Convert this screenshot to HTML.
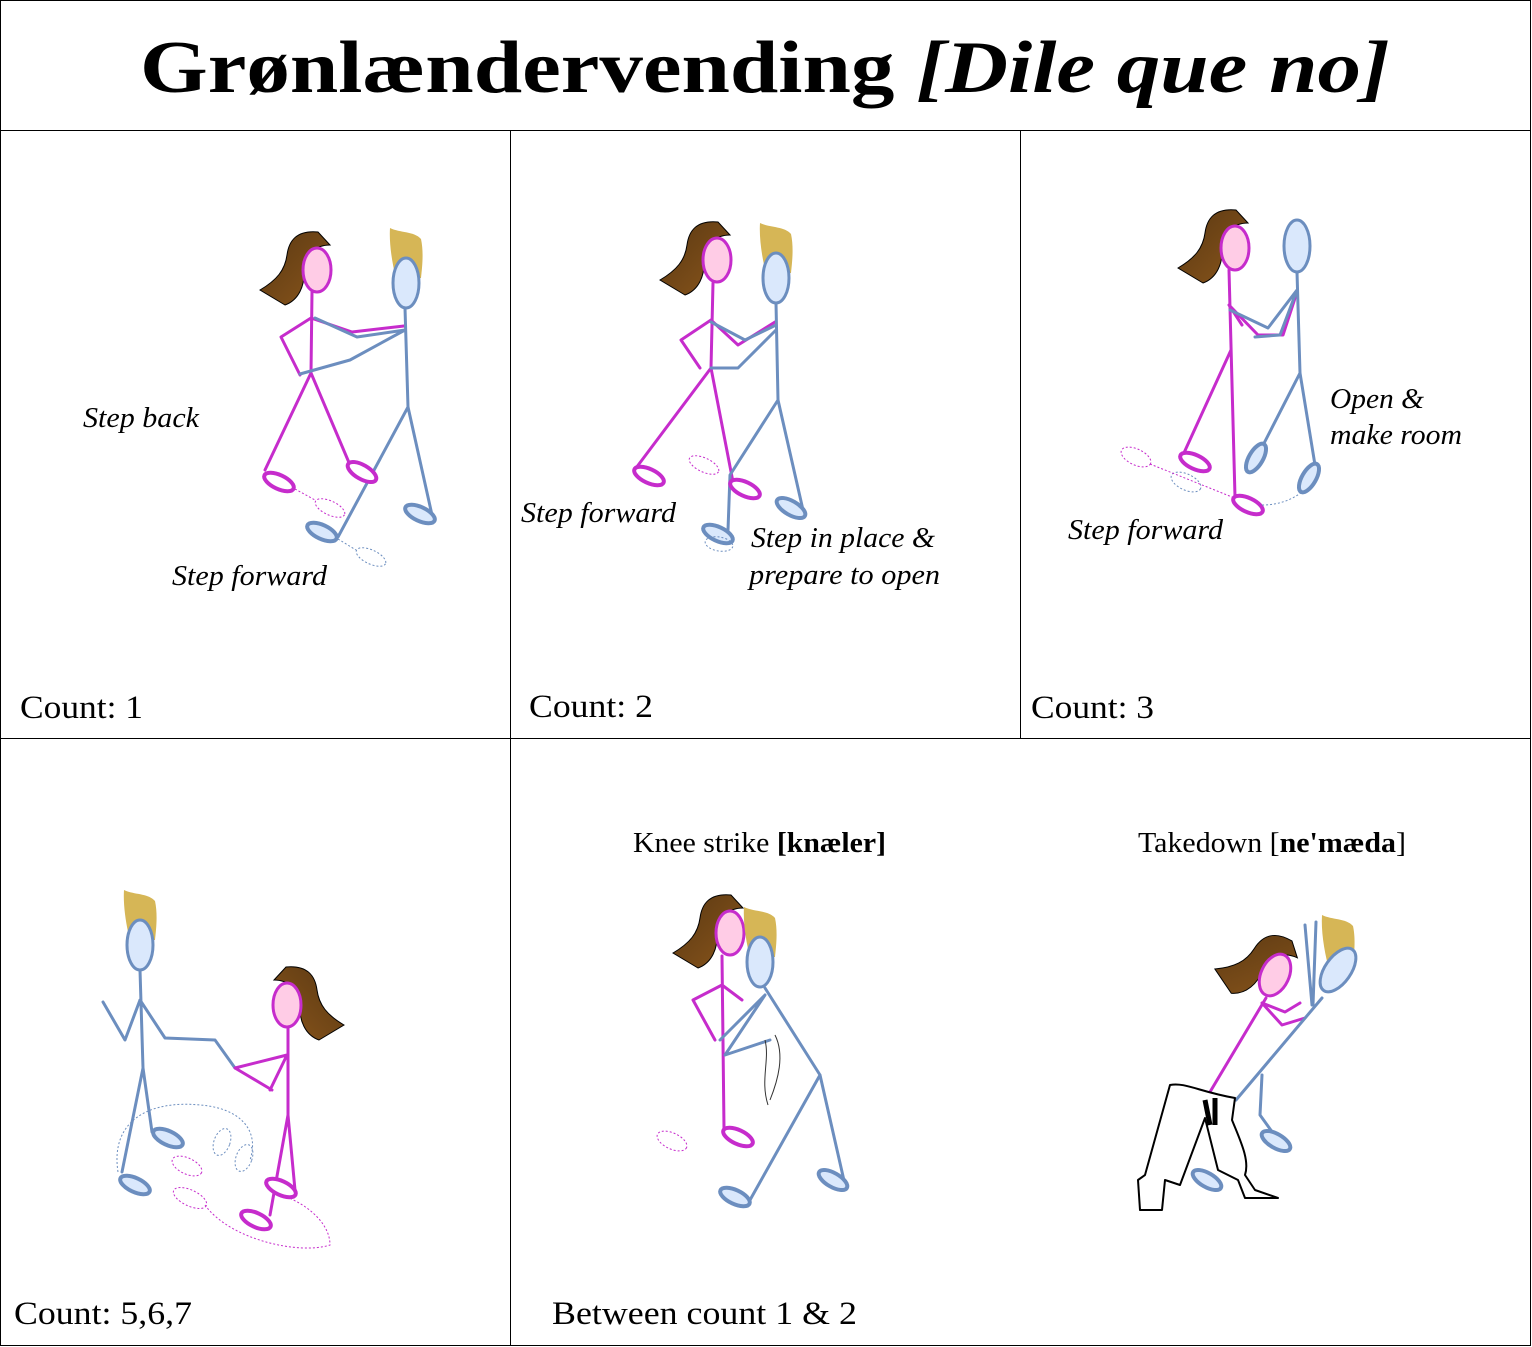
<!DOCTYPE html>
<html><head><meta charset="utf-8"><style>
html,body{margin:0;padding:0;background:#fff}
svg{display:block}
text{font-family:"Liberation Serif",serif}
.it{font-style:italic;font-size:28px}
.ct{font-size:33px}
.p{stroke:#c62ccc;stroke-width:3;fill:none;stroke-linejoin:round;stroke-linecap:round}
.b{stroke:#6c8ebf;stroke-width:3;fill:none;stroke-linejoin:round;stroke-linecap:round}
.pf{stroke:#c62ccc;stroke-width:4;fill:#fff}
.bf{stroke:#6c8ebf;stroke-width:4;fill:#dae8fc}
.pd{stroke:#c62ccc;stroke-width:1;stroke-dasharray:2 2;fill:none}
.bd{stroke:#6c8ebf;stroke-width:1;stroke-dasharray:2 2;fill:none}
</style></head><body>
<svg width="1532" height="1347" viewBox="0 0 1532 1347" xmlns="http://www.w3.org/2000/svg">
<defs>
<linearGradient id="hg" x1="0" y1="0" x2="1" y2="1"><stop offset="0" stop-color="#5a3812"/><stop offset="1" stop-color="#8a561c"/></linearGradient>
<g id="wh">
<path d="M13,-25 L1,-38 C-20,-40 -28,-30 -30,-15 C-32,0 -40,10 -57,20 L-32,35 C-18,30 -12,15 -13,0 C-12,-15 -2,-25 13,-25Z" fill="url(#hg)" stroke="#000" stroke-width="1"/>
<ellipse cx="0" cy="0" rx="14" ry="22" fill="#ffcce6" stroke="#c62ccc" stroke-width="3"/>
</g>
<g id="mh">
<path d="M-16,-55 C-6,-50 8,-52 15,-44 C18,-30 16,-15 15,-5 L-10,-5 C-14,-20 -17,-40 -16,-55Z" fill="#d6b656"/>
<ellipse cx="0" cy="0" rx="13" ry="25" fill="#dae8fc" stroke="#6c8ebf" stroke-width="3"/>
</g>
</defs>
<g stroke="#000" stroke-width="1" fill="none">
<rect x="0.5" y="0.5" width="1530" height="1345"/>
<line x1="0" y1="130.5" x2="1531" y2="130.5"/>
<line x1="0" y1="738.5" x2="1531" y2="738.5"/>
<line x1="510.5" y1="130" x2="510.5" y2="1346"/>
<line x1="1020.5" y1="130" x2="1020.5" y2="738"/>
</g>
<text x="140" y="92" textLength="1250" lengthAdjust="spacingAndGlyphs" font-size="74" font-weight="bold">Grønlændervending <tspan font-style="italic">[Dile que no]</tspan></text>

<!-- Panel 1 -->
<use href="#wh" transform="translate(317,270)"/>
<path class="p" d="M312,292 L311,373 M311,318 L281,337 L300,375 M311,318 L352,332 L404,326 M311,373 L265,470 M311,373 L350,465"/>
<use href="#mh" transform="translate(406,283)"/>
<path class="b" d="M405,308 L408,407 M405,330 L357,337 L315,318 M405,330 L350,360 L300,374 M408,407 L338,537 M408,407 L432,515"/>
<ellipse class="pf" cx="279" cy="482" rx="16" ry="7" transform="rotate(25 279 482)"/>
<ellipse class="pf" cx="362" cy="472" rx="16" ry="7" transform="rotate(30 362 472)"/>
<ellipse class="bf" cx="322" cy="532" rx="16" ry="7" transform="rotate(25 322 532)"/>
<ellipse class="bf" cx="420" cy="514" rx="16" ry="7" transform="rotate(25 420 514)"/>
<ellipse class="pd" cx="330" cy="508" rx="16" ry="7" transform="rotate(25 330 508)"/>
<ellipse class="bd" cx="371" cy="557" rx="16" ry="7" transform="rotate(25 371 557)"/>
<path class="pd" d="M295,489 L315,500"/><path class="bd" d="M338,539 L356,550"/>
<text class="it" x="83" y="427" textLength="116" lengthAdjust="spacingAndGlyphs">Step back</text>
<text class="it" x="172" y="585" textLength="155" lengthAdjust="spacingAndGlyphs">Step forward</text>
<text class="ct" x="20" y="718" textLength="123" lengthAdjust="spacingAndGlyphs">Count: 1</text>

<!-- Panel 2 -->
<use href="#wh" transform="translate(717,260)"/>
<path class="p" d="M713,283 L711,368 M711,320 L681,340 L700,368 M711,320 L738,345 L775,322 M711,368 L636,468 M711,368 L733,482"/>
<use href="#mh" transform="translate(776,278)"/>
<path class="b" d="M776,303 L778,400 M776,330 L738,368 L711,368 M776,325 L745,340 L711,322 M778,400 L730,475 L728,530 M778,400 L803,510"/>
<ellipse class="pf" cx="649" cy="476" rx="16" ry="7" transform="rotate(25 649 476)"/>
<ellipse class="pf" cx="745" cy="489" rx="16" ry="7" transform="rotate(25 745 489)"/>
<ellipse class="bf" cx="718" cy="534" rx="16" ry="7" transform="rotate(25 718 534)"/>
<ellipse class="bf" cx="791" cy="508" rx="16" ry="7" transform="rotate(30 791 508)"/>
<ellipse class="pd" cx="704" cy="465" rx="16" ry="7" transform="rotate(25 704 465)"/>
<ellipse class="bd" cx="719" cy="544" rx="14" ry="7" transform="rotate(10 719 544)"/>
<text class="it" x="521" y="522" textLength="155" lengthAdjust="spacingAndGlyphs">Step forward</text>
<text class="it" x="751" y="547" textLength="184" lengthAdjust="spacingAndGlyphs">Step in place &amp;</text>
<text class="it" x="749" y="584" textLength="191" lengthAdjust="spacingAndGlyphs">prepare to open</text>
<text class="ct" x="529" y="717" textLength="124" lengthAdjust="spacingAndGlyphs">Count: 2</text>

<!-- Panel 3 -->
<use href="#wh" transform="translate(1235,248)"/>
<path class="p" d="M1229,270 L1235,497 M1229,305 L1258,335 L1283,335 L1297,292 M1231,350 L1183,455 M1229,305 L1242,325"/>
<ellipse cx="1297" cy="246" rx="13" ry="26" fill="#dae8fc" stroke="#6c8ebf" stroke-width="3"/>
<path class="b" d="M1297,272 L1300,373 M1297,290 L1268,328 L1230,310 M1297,290 L1280,335 L1255,337 M1300,373 L1258,455 M1300,373 L1315,465"/>
<ellipse class="pf" cx="1195" cy="462" rx="16" ry="7" transform="rotate(25 1195 462)"/>
<ellipse class="pf" cx="1248" cy="505" rx="16" ry="7" transform="rotate(25 1248 505)"/>
<ellipse class="bf" cx="1256" cy="458" rx="16" ry="7" transform="rotate(-60 1256 458)"/>
<ellipse class="bf" cx="1309" cy="478" rx="16" ry="7" transform="rotate(-60 1309 478)"/>
<ellipse class="pd" cx="1136" cy="457" rx="16" ry="8" transform="rotate(25 1136 457)"/>
<ellipse class="bd" cx="1186" cy="482" rx="16" ry="8" transform="rotate(25 1186 482)"/>
<path class="pd" d="M1150,464 L1232,497"/><path class="bd" d="M1262,505 Q1285,505 1302,492"/>
<text class="it" x="1330" y="408" textLength="94" lengthAdjust="spacingAndGlyphs">Open &amp;</text>
<text class="it" x="1330" y="444" textLength="132" lengthAdjust="spacingAndGlyphs">make room</text>
<text class="it" x="1068" y="539" textLength="155" lengthAdjust="spacingAndGlyphs">Step forward</text>
<text class="ct" x="1031" y="718" textLength="123" lengthAdjust="spacingAndGlyphs">Count: 3</text>

<!-- Panel 4 -->
<use href="#mh" transform="translate(140,945)"/>
<path class="b" d="M140,970 L143,1068 M140,1000 L125,1040 L103,1002 M140,1000 L165,1038 L215,1040 L235,1068 M143,1068 L122,1172 M143,1068 L152,1132"/>
<use href="#wh" transform="translate(287,1005) scale(-1,1)"/>
<path class="p" d="M288,1028 L288,1115 L295,1190 M288,1115 L270,1215 M287,1055 L235,1068 L272,1090 M287,1055 L270,1090"/>
<ellipse class="bf" cx="135" cy="1185" rx="16" ry="7" transform="rotate(25 135 1185)"/>
<ellipse class="bf" cx="168" cy="1138" rx="16" ry="7" transform="rotate(25 168 1138)"/>
<ellipse class="pf" cx="281" cy="1188" rx="16" ry="7" transform="rotate(25 281 1188)"/>
<ellipse class="pf" cx="256" cy="1220" rx="16" ry="7" transform="rotate(25 256 1220)"/>
<path class="bd" d="M118,1172 C110,1120 150,1100 200,1105 C240,1108 260,1130 250,1160"/>
<ellipse class="bd" cx="222" cy="1142" rx="8" ry="14" transform="rotate(20 222 1142)"/>
<ellipse class="bd" cx="244" cy="1158" rx="8" ry="14" transform="rotate(20 244 1158)"/>
<ellipse class="pd" cx="187" cy="1166" rx="16" ry="8" transform="rotate(25 187 1166)"/>
<ellipse class="pd" cx="190" cy="1198" rx="18" ry="8" transform="rotate(25 190 1198)"/>
<path class="pd" d="M205,1205 C230,1240 300,1255 330,1245 C330,1220 300,1200 280,1195"/>
<text class="ct" x="14" y="1324" textLength="178" lengthAdjust="spacingAndGlyphs">Count: 5,6,7</text>

<!-- Panel 5a -->
<text x="633" y="852" font-size="29" textLength="253" lengthAdjust="spacingAndGlyphs">Knee strike <tspan font-weight="bold">[knæler]</tspan></text>
<use href="#wh" transform="translate(730,933)"/>
<path class="p" d="M722,956 L724,1128 M722,985 L693,1000 L715,1040 M722,985 L742,1000"/>
<use href="#mh" transform="translate(760,962)"/>
<path class="b" d="M765,988 L820,1075 M765,995 L735,1025 L720,1040 M765,995 L725,1055 L770,1040 M820,1075 L750,1200 M820,1075 L845,1185"/>
<path d="M765,1040 C770,1060 760,1080 768,1105 M775,1035 C785,1055 778,1080 770,1100" stroke="#333" stroke-width="1" fill="none"/>
<ellipse class="pf" cx="738" cy="1137" rx="16" ry="7" transform="rotate(25 738 1137)"/>
<ellipse class="bf" cx="735" cy="1197" rx="16" ry="7" transform="rotate(25 735 1197)"/>
<ellipse class="bf" cx="833" cy="1180" rx="16" ry="7" transform="rotate(30 833 1180)"/>
<ellipse class="pd" cx="672" cy="1141" rx="16" ry="8" transform="rotate(25 672 1141)"/>

<!-- Panel 5b -->
<text x="1138" y="852" font-size="29" textLength="268" lengthAdjust="spacingAndGlyphs">Takedown [<tspan font-weight="bold">ne'mæda</tspan>]</text>
<use href="#wh" transform="translate(1275,975) rotate(25)"/>
<path class="p" d="M1266,998 L1207,1097 M1262,1003 L1285,1012 L1300,1003 M1262,1003 L1282,1025 L1305,1018"/>
<g transform="translate(1338,970) rotate(35)"><path d="M-16,-55 C-6,-50 8,-52 15,-44 C18,-30 16,-15 15,-5 L-10,-5 C-14,-20 -17,-40 -16,-55Z" fill="#d6b656" transform="rotate(-35)"/><ellipse cx="0" cy="0" rx="13" ry="25" fill="#dae8fc" stroke="#6c8ebf" stroke-width="3"/></g>
<path class="b" d="M1322,998 L1236,1100 M1305,925 L1312,1005 M1316,922 L1313,1005 M1262,1075 L1260,1115 L1278,1140"/>
<ellipse class="bf" cx="1276" cy="1141" rx="16" ry="7" transform="rotate(30 1276 1141)"/>
<ellipse class="bf" cx="1207" cy="1180" rx="16" ry="7" transform="rotate(30 1207 1180)"/>
<path d="M1170,1085 C1185,1082 1200,1092 1235,1098 L1232,1120 C1240,1140 1250,1160 1245,1175 L1255,1190 L1278,1198 L1245,1198 L1238,1180 L1218,1170 L1205,1118 L1180,1185 L1165,1180 L1162,1210 L1140,1210 L1138,1180 L1145,1175 Z" fill="#fff" stroke="#000" stroke-width="2" stroke-linejoin="round"/>
<path d="M1205,1100 L1210,1125 M1215,1098 L1215,1125" stroke="#000" stroke-width="5"/>
<text class="ct" x="552" y="1324" textLength="305" lengthAdjust="spacingAndGlyphs">Between count 1 &amp; 2</text>
</svg>
</body></html>
